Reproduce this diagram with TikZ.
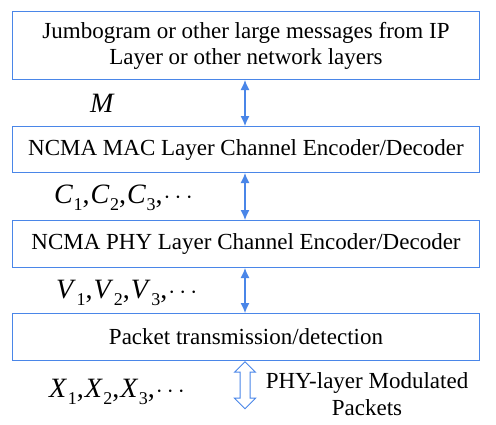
\documentclass[tikz,border=0pt]{standalone}
\usepackage{fontspec}
\newfontfamily\tnr{Liberation Serif}
\usetikzlibrary{shapes.arrows,arrows.meta}
\definecolor{lb}{RGB}{74,134,232}
\newcommand{\vsub}[2]{\textit{#1}\kern0.02em\raisebox{-0.28em}{\fontsize{18}{18}\selectfont #2}}
\begin{document}
\begin{tikzpicture}[x=1pt,y=-1pt,
  layer/.style={draw=lb,line width=1pt,minimum width=467pt,anchor=north west,inner sep=0pt,align=center,font=\tnr\fontsize{23}{26}\selectfont},
  link/.style={draw=lb,line width=1.2pt,{Latex[length=10pt,width=9pt]}-{Latex[length=10pt,width=9pt]}},
  lbl/.style={font=\tnr\fontsize{28}{30}\selectfont,anchor=base west,inner sep=0pt}]
\useasboundingbox (0,0) rectangle (496,424);
\node[layer,minimum height=68pt] (b1) at (12,11) {Jumbogram or other large messages from IP\\Layer or other network layers};
\node[layer,minimum height=46pt] (b2) at (12,126) {NCMA MAC Layer Channel Encoder/Decoder};
\node[layer,minimum height=47pt] (b3) at (12,220) {NCMA PHY Layer Channel Encoder/Decoder};
\node[layer,minimum height=47pt] (b4) at (12,313) {Packet transmission/detection};
\draw[link] (b1.south -| 245,0) -- (b2.north -| 245,0);
\draw[link] (b2.south -| 245,0) -- (b3.north -| 245,0);
\draw[link] (b3.south -| 245,0) -- (b4.north -| 245,0);
\node[double arrow,draw=lb,line width=1pt,fill=white,shape border rotate=90,minimum height=47pt,inner xsep=4.5pt,inner ysep=0pt,double arrow head extend=5.5pt,anchor=north] (da) at (b4.south -| 245,0) {};
\node[lbl] (m) at (90,112) {\textit{M}};
\node[lbl] (c) at (54,203) {\vsub{C}{1},\kern1pt\vsub{C}{2},\kern1pt\vsub{C}{3},\kern1pt$\cdots$};
\node[lbl] (v) at (56,298) {\vsub{V}{1},\kern1pt\vsub{V}{2},\kern1pt\vsub{V}{3},\kern1pt$\cdots$};
\node[lbl] (xx) at (49,397) {\vsub{X}{1},\kern1pt\vsub{X}{2},\kern1pt\vsub{X}{3},\kern1pt$\cdots$};
\node[align=center,font=\tnr\fontsize{23}{27}\selectfont,inner sep=0pt] (phy) at (367,394) {PHY-layer Modulated\\Packets};
\end{tikzpicture}
\end{document}
